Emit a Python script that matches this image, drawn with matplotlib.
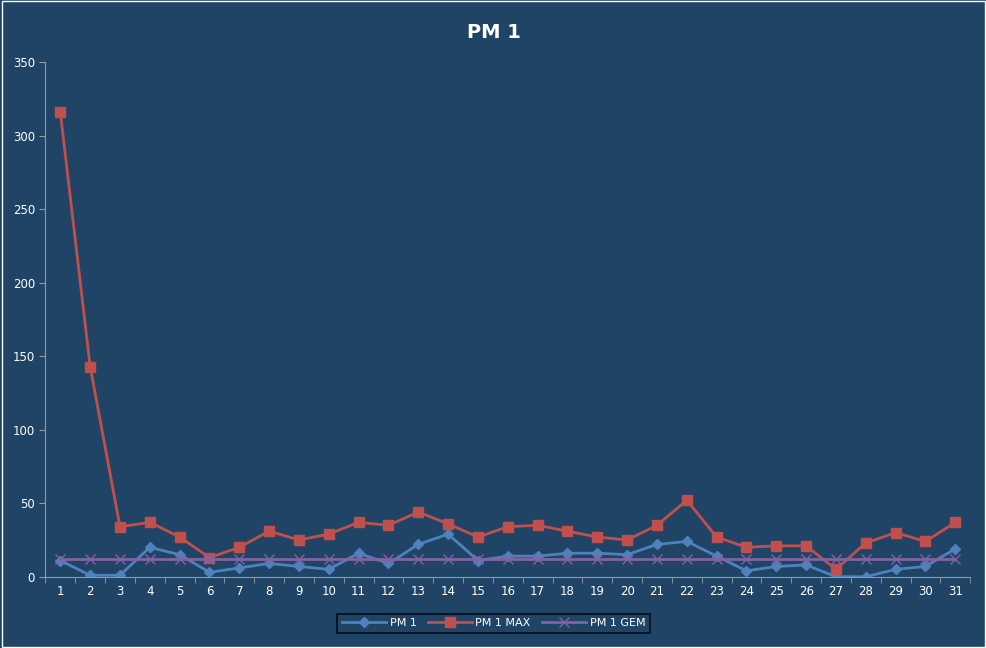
import matplotlib
matplotlib.use("Agg")
import matplotlib.pyplot as plt

days = list(range(1, 32))
pm1 = [11, 1, 1, 20, 15, 3, 6, 9, 7, 5, 16, 9, 22, 29, 11, 14, 14, 16, 16, 15, 22, 24, 14, 4, 7, 8, 0, 0, 5, 7, 19]
pm1_max = [316, 143, 34, 37, 27, 13, 20, 31, 25, 29, 37, 35, 44, 36, 27, 34, 35, 31, 27, 25, 35, 52, 27, 20, 21, 21, 5, 23, 30, 24, 37]
pm1_gem = [12] * 31

bg = "#1F4466"
fig = plt.figure(figsize=(9.87, 6.48), dpi=100, facecolor=bg)
ax = fig.add_axes([0.046, 0.110, 0.937, 0.794], facecolor=bg)

ax.plot(days, pm1, color="#4F81BD", marker="D", markersize=5, linewidth=2, label="PM 1")
ax.plot(days, pm1_max, color="#C0504D", marker="s", markersize=6.5, linewidth=2, label="PM 1 MAX")
ax.plot(days, pm1_gem, color="#8064A2", marker="x", markersize=7, linewidth=2, label="PM 1 GEM")

ax.set_xlim(0.5, 31.5)
ax.set_ylim(0, 350)
ax.set_yticks(range(0, 351, 50))
ax.set_xticks(days)
ax.set_xticks([d + 0.5 for d in range(0, 32)], minor=True)
ax.tick_params(colors="white", labelsize=8.5)
ax.tick_params(axis="both", color="#999999", length=4)
ax.tick_params(axis="x", which="major", length=0, pad=6)
ax.tick_params(axis="x", which="minor", color="#999999", length=4)
for s in ["top", "right"]:
    ax.spines[s].set_visible(False)
for s in ["left", "bottom"]:
    ax.spines[s].set_color("#999999")

fig.text(0.5, 0.95, "PM 1", color="white", fontsize=14, fontweight="bold", ha="center", va="center")
leg = fig.legend(loc="center", bbox_to_anchor=(0.5, 0.038), ncol=3, frameon=True, fontsize=8,
                 facecolor=bg, edgecolor="black", labelcolor="white", handlelength=4,
                 fancybox=False, columnspacing=1.0, handletextpad=0.3)
leg.get_frame().set_linewidth(1.2)

fig.patches.append(plt.Rectangle((0.002, 0.002), 0.996, 0.996, transform=fig.transFigure,
                                 fill=False, edgecolor="white", linewidth=1))
fig.savefig("out.png", dpi=100, facecolor=bg)
